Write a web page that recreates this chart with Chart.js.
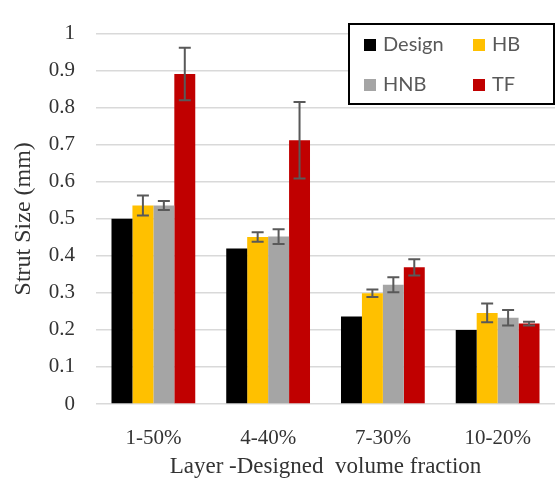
<!DOCTYPE html>
<html>
<head>
<meta charset="utf-8">
<script src="https://cdn.jsdelivr.net/npm/chart.js@4"></script>
<style>
  body { margin: 0; background: #fff; }
  #wrap { position: relative; width: 559px; height: 483px; }
</style>
</head>
<body>
<div id="wrap"><canvas id="chart"></canvas></div>
<script>
// Chart data
const categories = ['1-50%', '4-40%', '7-30%', '10-20%'];
const seriesNames = ['Design', 'HB', 'HNB', 'TF'];
const design = [0.5, 0.42, 0.236, 0.2];
const hb = [0.536, 0.451, 0.299, 0.246];
const hbErr = [0.027, 0.013, 0.010, 0.025];
const hnb = [0.536, 0.452, 0.322, 0.233];
const hnbErr = [0.012, 0.020, 0.020, 0.021];
const tf = [0.891, 0.712, 0.369, 0.217];
const tfErr = [0.071, 0.103, 0.022, 0.005];

const colors = ['#000000', '#FFC000', '#A5A5A5', '#C00000'];
const values = [design, hb, hnb, tf];
const errors = [null, hbErr, hnbErr, tfErr];

// Error bars drawn through the y scale
const errorBars = {
    id: 'errorBars',
    afterDatasetsDraw(chart) {
        const ctx = chart.ctx;
        const y = chart.scales.y;
        ctx.save();
        ctx.strokeStyle = '#595959';
        ctx.lineWidth = 2;
        chart.data.datasets.forEach(function(ds, i) {
            if (!ds.err) return;
            chart.getDatasetMeta(i).data.forEach(function(bar, j) {
                const top = y.getPixelForValue(ds.data[j] + ds.err[j]);
                const bot = y.getPixelForValue(ds.data[j] - ds.err[j]);
                ctx.beginPath();
                ctx.moveTo(bar.x, top);
                ctx.lineTo(bar.x, bot);
                ctx.moveTo(bar.x - 6, top);
                ctx.lineTo(bar.x + 6, top);
                ctx.moveTo(bar.x - 6, bot);
                ctx.lineTo(bar.x + 6, bot);
                ctx.stroke();
            });
        });
        ctx.restore();
    }
};

// Boxed legend inside the plot, top right
const boxLegend = {
    id: 'boxLegend',
    afterDraw(chart) {
        const ctx = chart.ctx;
        ctx.save();
        ctx.fillStyle = '#fff';
        ctx.fillRect(349, 24, 205, 80);
        ctx.strokeStyle = '#000';
        ctx.lineWidth = 2;
        ctx.strokeRect(349, 24, 205, 80);
        ctx.font = '20px Lato';
        ctx.textBaseline = 'middle';
        const cols = [364, 473];
        const rows = [45, 85];
        seriesNames.forEach(function(name, i) {
            const x = cols[i % 2];
            const yy = rows[Math.floor(i / 2)];
            ctx.fillStyle = colors[i];
            ctx.fillRect(x, yy - 6, 12, 12);
            ctx.fillStyle = '#595959';
            ctx.fillText(name, x + 19, yy);
        });
        ctx.restore();
    }
};

const chart = new Chart(document.getElementById('chart'), {
    type: 'bar',
    data: {
        labels: categories,
        datasets: seriesNames.map(function(name, i) {
            return {
                label: name,
                data: values[i],
                err: errors[i],
                backgroundColor: colors[i],
                categoryPercentage: 0.73,
                barPercentage: 1.0
            };
        })
    },
    options: {
        responsive: true,
        maintainAspectRatio: false,
        animation: false,
        layout: { padding: { top: 19, right: 4, bottom: 0, left: 0 } },
        plugins: {
            legend: { display: false },
            tooltip: { enabled: false }
        },
        scales: {
            x: {
                grid: { display: false },
                border: { display: false },
                ticks: {
                    color: '#333',
                    font: { family: 'Liberation Serif', size: 21 },
                    padding: 14
                },
                title: {
                    display: true,
                    text: 'Layer -Designed  volume fraction',
                    color: '#333',
                    font: { family: 'Liberation Serif', size: 23 },
                    padding: { top: 0, bottom: 2 }
                },
                afterFit(scale) { scale.height = 79; }
            },
            y: {
                min: 0,
                max: 1,
                grid: { color: '#d9d9d9', lineWidth: 1.5, drawTicks: false },
                border: { display: false },
                ticks: {
                    stepSize: 0.1,
                    color: '#333',
                    font: { family: 'Liberation Serif', size: 21 },
                    padding: 21,
                    callback: function(v) { return String(Math.round(v * 10) / 10); }
                },
                title: {
                    display: true,
                    text: 'Strut Size (mm)',
                    color: '#333',
                    font: { family: 'Liberation Serif', size: 24 },
                    padding: { top: 9, bottom: 0 }
                },
                afterFit(scale) { scale.width = 96; }
            }
        }
    },
    plugins: [errorBars, boxLegend]
});
</script>
</body>
</html>
